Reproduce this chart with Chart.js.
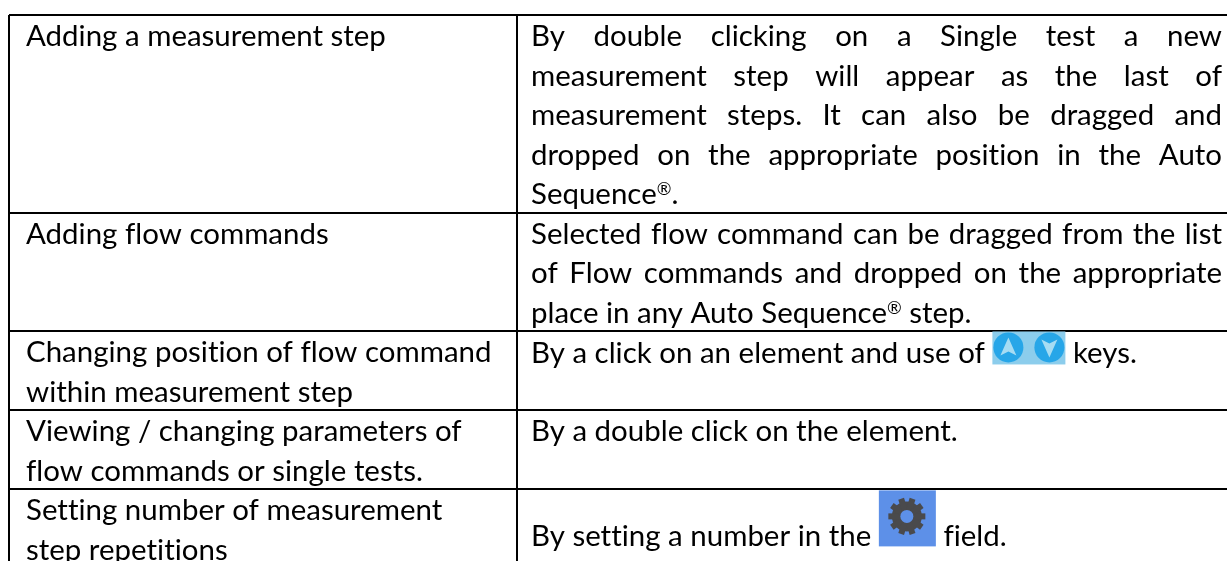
<!DOCTYPE html>
<html lang="en">
<head>
    <meta charset="UTF-8">
    <title>Auto Sequence editing actions</title>
    <style>
        body { margin: 0; background: #fff; overflow: hidden; }
        canvas { display: block; }
    </style>
    <script src="https://cdn.jsdelivr.net/npm/chart.js"></script>
</head>
<body>
    <canvas id="tableChart" width="1227" height="561"></canvas>
    <script>
    // table content, one string per printed line
    const actionLines = [
        ["Adding a measurement step"],
        ["Adding flow commands"],
        ["Changing position of flow command", "within measurement step"],
        ["Viewing / changing parameters of", "flow commands or single tests."],
        ["Setting number of measurement", "step repetitions"]
    ];
    const howToLines = [
        ["By double clicking on a Single test a new",
         "measurement step will appear as the last of",
         "measurement steps. It can also be dragged and",
         "dropped on the appropriate position in the Auto",
         "Sequence®."],
        ["Selected flow command can be dragged from the list",
         "of Flow commands and dropped on the appropriate",
         "place in any Auto Sequence® step."],
        ["By a click on an element and use of |arrows| keys."],
        ["By a double click on the element."],
        ["By setting a number in the |gear| field."]
    ];
    // row height counted in text lines, drop of the right cell in lines
    const rowLines = [5, 3, 2, 2, 2];
    const howToDrop = [0, 0, 0.03, 0, 0.66];
    const columnWidths = [508, 710];

    const FONT_SIZE = 29.45;
    const PAD_ACTION = 17;
    const PAD_HOWTO = 14;
    const RIGHT_EDGE = 1222;
    const BASELINE = 0.79;

    const rowTops = [0];
    rowLines.forEach(n => rowTops.push(rowTops[rowTops.length - 1] + n));

    function linePoints(rows, colStart, drops) {
        const pts = [];
        rows.forEach((lines, r) => {
            lines.forEach((text, i) => {
                const justify = rows === howToLines && i < lines.length - 1;
                pts.push({ x: colStart, y: rowTops[r] + (drops ? drops[r] : 0) + i + BASELINE, text, justify });
            });
        });
        return pts;
    }

    function drawArrows(ctx, x, base) {
        const top = base - 32, h = 33, w = 73;
        ctx.fillStyle = "#8ccdec";
        ctx.fillRect(x, top, w, h);
        [[16, -1], [57, 1]].forEach(([cx, dir]) => {
            const cy = top + 16;
            ctx.fillStyle = "#27a6e8";
            ctx.beginPath();
            ctx.arc(x + cx, cy, 15, 0, Math.PI * 2);
            ctx.fill();
            ctx.fillStyle = "#a6dcf3";
            ctx.beginPath();
            ctx.moveTo(x + cx, cy + dir * 10);
            ctx.lineTo(x + cx + 8, cy - dir * 8);
            ctx.lineTo(x + cx, cy - dir * 4);
            ctx.lineTo(x + cx - 8, cy - dir * 8);
            ctx.closePath();
            ctx.fill();
        });
        return w;
    }

    function drawGear(ctx, x, base) {
        const top = base - 56, size = 57, cx = x + 28, cy = top + 26;
        ctx.fillStyle = "#5d90e8";
        ctx.fillRect(x, top, size, 56);
        ctx.fillStyle = "#4a4a4c";
        ctx.beginPath();
        ctx.arc(cx, cy, 15, 0, Math.PI * 2);
        ctx.fill();
        ctx.lineWidth = 6;
        ctx.strokeStyle = "#4a4a4c";
        for (let i = 0; i < 10; i++) {
            const a = i * Math.PI / 5;
            ctx.beginPath();
            ctx.moveTo(cx, cy);
            ctx.lineTo(cx + Math.cos(a) * 18.5, cy + Math.sin(a) * 18.5);
            ctx.stroke();
        }
        ctx.fillStyle = "#5d90e8";
        ctx.beginPath();
        ctx.arc(cx, cy, 6.5, 0, Math.PI * 2);
        ctx.fill();
        return size;
    }

    const icons = { arrows: drawArrows, gear: drawGear };

    // text with a small raised ® like the one in the source document
    function writeText(ctx, text, x, y) {
        const parts = text.split("®");
        parts.forEach((part, i) => {
            ctx.font = FONT_SIZE + "px Lato";
            ctx.fillText(part, x, y);
            x += ctx.measureText(part).width;
            if (i < parts.length - 1) {
                ctx.font = (FONT_SIZE * 0.6) + "px Lato";
                ctx.fillText("®", x, y - 9);
                x += ctx.measureText("®").width;
            }
        });
        ctx.font = FONT_SIZE + "px Lato";
        return x;
    }

    // writes each line at the pixel of its point
    const cellText = {
        id: "cellText",
        afterDatasetsDraw(chart) {
            const ctx = chart.ctx;
            ctx.save();
            ctx.font = FONT_SIZE + "px Lato";
            ctx.textBaseline = "alphabetic";
            ctx.letterSpacing = "0.01px"; // stops the Lato tt and fl ligatures
            chart.data.datasets.forEach((ds, d) => {
                chart.getDatasetMeta(d).data.forEach((el, i) => {
                    const line = ds.data[i];
                    const startX = el.x + (d === 0 ? PAD_ACTION : PAD_HOWTO);
                    ctx.fillStyle = "#000";
                    ctx.wordSpacing = "0px";
                    if (line.text.includes("|")) {
                        const parts = line.text.split("|");
                        let x = writeText(ctx, parts[0], startX, el.y);
                        x += icons[parts[1]](ctx, x, el.y);
                        ctx.fillStyle = "#000";
                        writeText(ctx, parts[2], x, el.y);
                        return;
                    }
                    if (line.justify) {
                        const gaps = line.text.split(" ").length - 1;
                        const extra = (RIGHT_EDGE - startX - ctx.measureText(line.text).width) / gaps;
                        ctx.wordSpacing = extra + "px";
                    }
                    writeText(ctx, line.text, startX, el.y);
                });
            });
            ctx.restore();
        }
    };

    new Chart(document.getElementById("tableChart"), {
        type: "scatter",
        data: {
            datasets: [
                { label: "Action", data: linePoints(actionLines, 0), pointRadius: 0 },
                { label: "How to", data: linePoints(howToLines, columnWidths[0], howToDrop), pointRadius: 0 }
            ]
        },
        plugins: [cellText],
        options: {
            responsive: false,
            animation: false,
            events: [],
            layout: { padding: { left: 9, top: 15, right: 0, bottom: 0 } },
            plugins: { legend: { display: false }, tooltip: { enabled: false } },
            scales: {
                x: {
                    type: "linear",
                    min: 0,
                    max: columnWidths[0] + columnWidths[1],
                    afterBuildTicks: s => { s.ticks = [{ value: 0 }, { value: columnWidths[0] }]; },
                    border: { display: false },
                    grid: { color: "#000", lineWidth: 2, drawTicks: false },
                    ticks: { display: false }
                },
                y: {
                    type: "linear",
                    reverse: true,
                    min: 0,
                    max: 13.82,
                    afterBuildTicks: s => { s.ticks = rowTops.map(v => ({ value: v })); },
                    border: { display: false },
                    grid: { color: "#000", lineWidth: 2, drawTicks: false },
                    ticks: { display: false }
                }
            }
        }
    });
    </script>
</body>
</html>
